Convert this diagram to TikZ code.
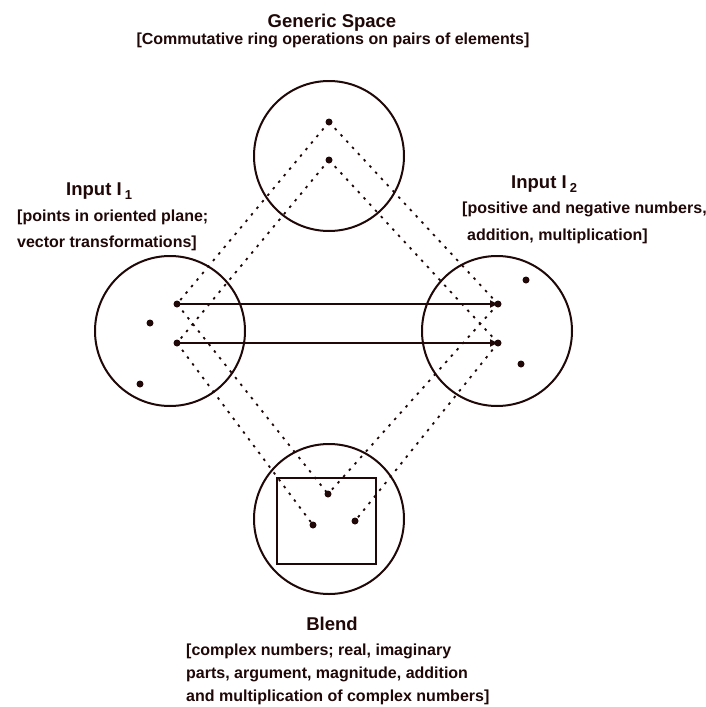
\documentclass[tikz,border=0pt]{standalone}
\usepackage{fontspec}
\setmainfont{Liberation Sans}
\usetikzlibrary{arrows.meta}
\definecolor{ink}{RGB}{32,8,8}
% lowered index digit of the input labels
\newcommand{\spaceindex}[1]{\raisebox{-4.5pt}{\fontsize{13}{13}\selectfont #1}}
\begin{document}
\begin{tikzpicture}[x=1pt,y=-1pt,
  space/.style={draw=ink,line width=2pt,circle,minimum size=150pt,inner sep=0pt},
  elem/.style={fill=ink,circle,inner sep=0pt,minimum size=7pt},
  proj/.style={draw=ink,line width=1.8pt,dash pattern=on 2.5pt off 6pt},
  crossmap/.style={draw=ink,line width=2.2pt,-{Triangle[length=8pt,width=7pt]}},
  title/.style={font=\fontsize{18.5}{20}\selectfont\bfseries,text=ink,inner sep=0pt},
  note/.style={font=\fontsize{16}{20}\selectfont\bfseries,text=ink,inner sep=0pt}]
\useasboundingbox[fill=white] (0,0) rectangle (706,707);

% the four mental spaces
\node[space] (gen) at (329,156) {};
\node[space] (in1) at (170,331) {};
\node[space] (in2) at (497,331) {};
\node[space] (bl)  at (329,519) {};
\node[draw=ink,line width=1.8pt,minimum width=99pt,minimum height=86pt,inner sep=0pt] (frame) at (326.5,521) {};

% elements
\node[elem] (gA) at (329,122) {};
\node[elem] (gB) at (329,160) {};
\node[elem] (l1) at (177,304) {};
\node[elem] (l2) at (177,343) {};
\node[elem] (l3) at (150,323) {};
\node[elem] (l4) at (140,384) {};
\node[elem] (r1) at (498,304) {};
\node[elem] (r2) at (498,343) {};
\node[elem] (r3) at (526,280) {};
\node[elem] (r4) at (521,364) {};
\node[elem] (b1) at (328,494) {};
\node[elem] (b2) at (313,525) {};
\node[elem] (b3) at (355,521) {};

% projections between spaces
\draw[proj] (gA.center) -- (l1.center);
\draw[proj] (gB.center) -- (l2.center);
\draw[proj] (gA.center) -- (r1.center);
\draw[proj] (gB.center) -- (r2.center);
\draw[proj] (l1.center) -- (b1.center);
\draw[proj] (l2.center) -- (b2.center);
\draw[proj] (r1.center) -- (b1.center);
\draw[proj] (r2.center) -- (b3.center);

% cross-space mapping
\draw[crossmap] (l1.center) -- (r1.center);
\draw[crossmap] (l2.center) -- (r2.center);

% labels
\node[title,anchor=base] (gt) at (332,27) {Generic Space};
\node[note,anchor=base] (gn) at (333,44) {[Commutative ring operations on pairs of elements]};
\node[title,anchor=base west] (i1t) at (66,195) {Input I\,\spaceindex{1}};
\node[note,anchor=base west] (i1a) at (17,221) {[points in oriented plane;};
\node[note,anchor=base west] (i1b) at (17,247) {vector transformations]};
\node[title,anchor=base west] (i2t) at (511,188) {Input I\,\spaceindex{2}};
\node[note,anchor=base west] (i2a) at (462,213) {[positive and negative numbers,};
\node[note,anchor=base west] (i2b) at (467,240) {addition, multiplication]};
\node[title,anchor=base] (bt) at (332,630) {Blend};
\node[note,anchor=base west] (ba) at (186,655) {[complex numbers; real, imaginary};
\node[note,anchor=base west] (bb) at (186,678) {parts, argument, magnitude, addition};
\node[note,anchor=base west] (bc) at (186,701) {and multiplication of complex numbers]};
\end{tikzpicture}
\end{document}
